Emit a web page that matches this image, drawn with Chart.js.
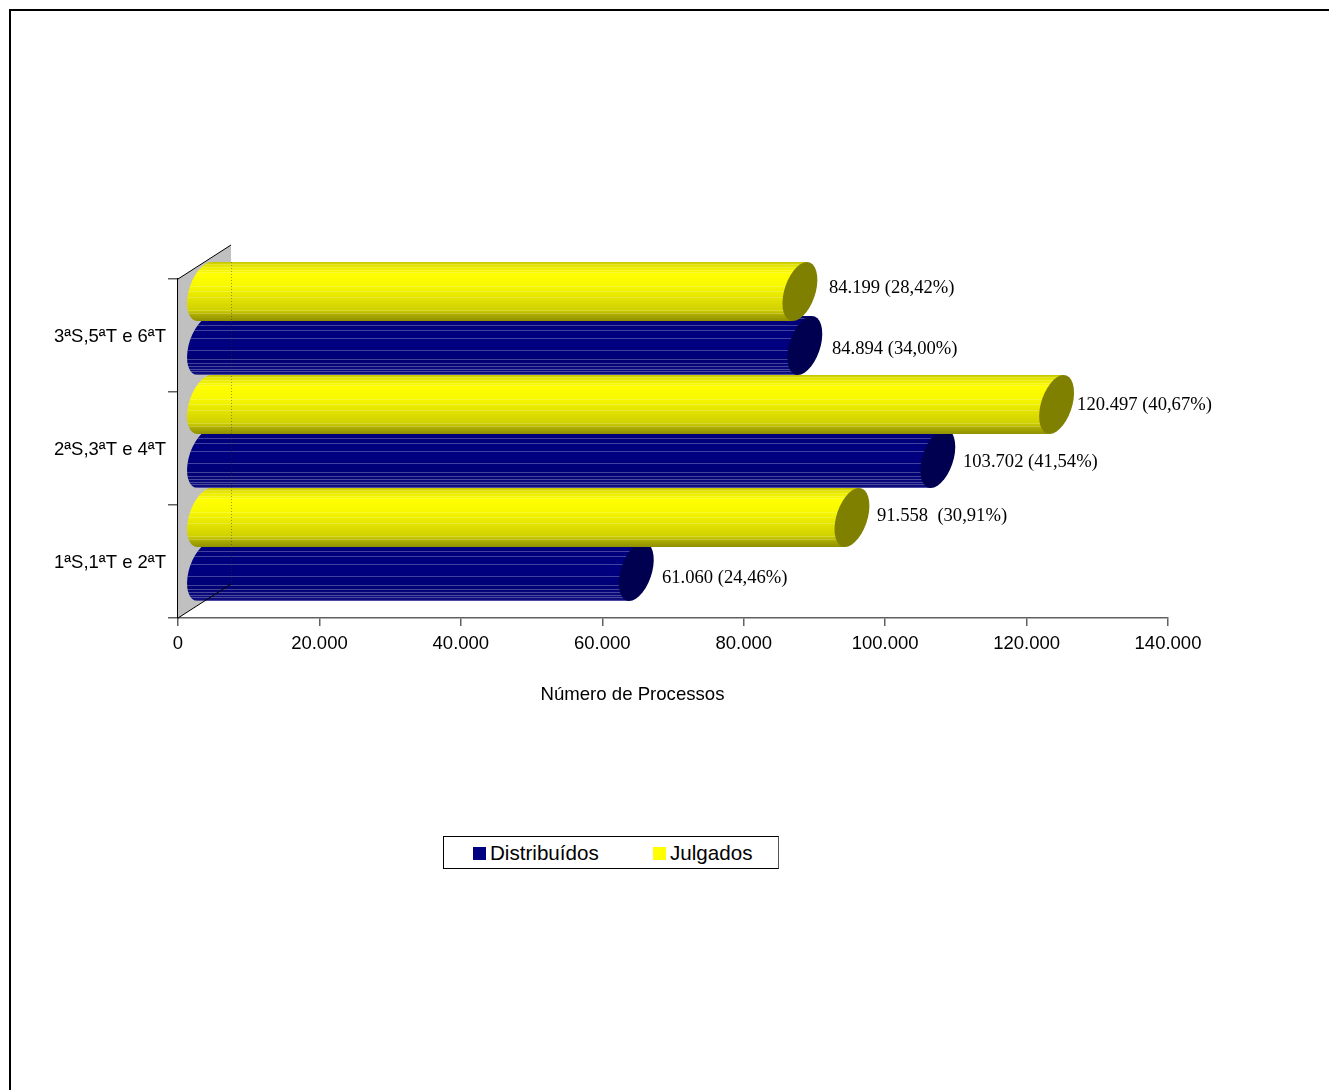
<!DOCTYPE html>
<html lang="pt">
<head>
<meta charset="utf-8">
<title>Processos distribuídos e julgados</title>
<script src="https://cdn.jsdelivr.net/npm/chart.js@4/dist/chart.umd.min.js"></script>
<style>
    html, body { margin: 0; padding: 0; background: #fff; overflow: hidden; }
    #page { position: relative; width: 1329px; height: 1090px; overflow: hidden; }
    #frame { position: absolute; left: 9px; top: 9px; width: 1400px; height: 1200px; border: 2px solid #000; }
    #wrap { position: absolute; left: 0; top: 0; width: 1329px; height: 1090px; }
    #legend {
        position: absolute; left: 443px; top: 836px; width: 334px; height: 31px;
        border: 1px solid #000; border-right-color: #555; background: #fff;
        font: 20.6px "Liberation Sans", Arial, sans-serif; color: #000;
    }
    #legend ul { list-style: none; margin: 0; padding: 0; }
    #legend li { position: absolute; top: 0; height: 31px; line-height: 32px; white-space: nowrap; }
    #legend span { position: absolute; left: 0; top: 10px; width: 13px; height: 13px; }
    #legend div { position: absolute; left: 17px; top: 0; }
</style>
</head>
<body>
<div id="page">
    <div id="frame"></div>
    <div id="wrap"><canvas id="chart" width="1329" height="1090"></canvas></div>
    <div id="legend"></div>
</div>
<script>
const categories = ["3ªS,5ªT e 6ªT", "2ªS,3ªT e 4ªT", "1ªS,1ªT e 2ªT"];
const julgados = [84199, 120497, 91558];
const distribuidos = [84894, 103702, 61060];
const julgadosLabels = ["84.199 (28,42%)", "120.497 (40,67%)", "91.558  (30,91%)"];
const distribuidosLabels = ["84.894 (34,00%)", "103.702 (41,54%)", "61.060 (24,46%)"];
const xTicks = ["0", "20.000", "40.000", "60.000", "80.000", "100.000", "120.000", "140.000"];

// 3d look: everything sits half way into the wall
const depthX = 53;
const depthY = 34;
const capLean = 7;
const capWidth = 16;

const yellowLook = {
    stops: [
        [0, "#c4c400"], [0.05, "#e2e200"], [0.2, "#ffff00"], [0.4, "#f8f800"], [0.6, "#e4e400"],
        [0.82, "#d0d000"], [0.9, "#aaaa00"], [1, "#909000"],
    ],
    stripes: [0.04, 0.09, 0.13, 0.17, 0.41, 0.5, 0.6, 0.81, 0.87],
    stripeColor: "rgba(255,255,255,0.2)",
    cap: "#808000",
};
const blueLook = {
    stops: [[0, "#000078"], [0.1, "#00007c"], [0.5, "#000080"], [0.75, "#000074"], [1, "#101080"]],
    stripes: [0.03, 0.16, 0.24, 0.37, 0.57, 0.73, 0.79, 0.85, 0.9, 0.94, 0.98],
    stripeColor: "rgba(255,255,255,0.26)",
    cap: "#000050",
};

function drawCylinder(ctx, bar, look, startX) {
    const cy = bar.y - depthY / 2;
    const ry = bar.height / 2;
    const endX = bar.x + depthX / 2;
    const beginX = startX + depthX / 2;
    const circle = new Path2D();
    circle.arc(0, 0, 1, 0, Math.PI * 2);

    const body = new Path2D();
    body.addPath(circle, new DOMMatrix([capWidth, 0, -capLean, ry, beginX, cy]));
    body.moveTo(beginX + capLean, cy - ry);
    body.lineTo(endX + capLean, cy - ry);
    body.lineTo(endX - capLean, cy + ry);
    body.lineTo(beginX - capLean, cy + ry);
    body.closePath();

    const grad = ctx.createLinearGradient(0, cy - ry, 0, cy + ry);
    look.stops.forEach(([pos, color]) => grad.addColorStop(pos, color));
    ctx.fillStyle = grad;
    ctx.fill(body);

    ctx.save();
    ctx.clip(body);
    ctx.fillStyle = look.stripeColor;
    look.stripes.forEach((pos) => {
        ctx.fillRect(startX, Math.round(cy - ry + pos * bar.height), endX - startX + capLean + 5, 1);
    });
    ctx.restore();

    const cap = new Path2D();
    cap.addPath(circle, new DOMMatrix([capWidth, 0, -capLean, ry, endX, cy]));
    ctx.fillStyle = look.cap;
    ctx.fill(cap);
}

// nudges of the value labels from the end of their bar
const labelNudge = {
    Julgados: [[55.6, -20.5], [47, -16.5], [51.5, -18.5]],
    "Distribuídos": [[53.7, -13.5], [51.7, -13.5], [52.2, -10.5]],
};

const cylinderPlugin = {
    id: "cylinders",
    beforeDatasetsDraw(chart) {
        const { ctx, chartArea } = chart;
        const { left, top, bottom } = chartArea;
        ctx.save();
        ctx.fillStyle = "#c0c0c0";
        ctx.beginPath();
        ctx.moveTo(left, top);
        ctx.lineTo(left + depthX, top - depthY);
        ctx.lineTo(left + depthX, bottom - depthY);
        ctx.lineTo(left, bottom);
        ctx.closePath();
        ctx.fill();
        ctx.strokeStyle = "#000";
        ctx.lineWidth = 1;
        ctx.beginPath();
        ctx.moveTo(left, top);
        ctx.lineTo(left + depthX, top - depthY);
        ctx.stroke();
        ctx.restore();
    },
    beforeDatasetDraw(chart, args) {
        const { ctx } = chart;
        const dataset = chart.data.datasets[args.index];
        const look = dataset.label === "Julgados" ? yellowLook : blueLook;
        const startX = chart.scales.x.getPixelForValue(0);
        ctx.save();
        [...args.meta.data].reverse().forEach((bar) => {
            drawCylinder(ctx, bar, look, startX);
        });
        ctx.restore();
        return false;
    },
    afterDatasetsDraw(chart) {
        const { ctx, chartArea } = chart;
        const wallX = chartArea.left + depthX + 0.5;
        ctx.save();
        // wall edges showing through the bars
        ctx.strokeStyle = "rgba(40,40,40,0.45)";
        ctx.lineWidth = 1;
        ctx.setLineDash([1, 2]);
        ctx.beginPath();
        ctx.moveTo(wallX, 262);
        ctx.lineTo(wallX, chartArea.bottom - depthY);
        ctx.stroke();
        ctx.setLineDash([]);
        ctx.strokeStyle = "#000";
        ctx.beginPath();
        ctx.moveTo(chartArea.left, chartArea.bottom);
        ctx.lineTo(chartArea.left + depthX, chartArea.bottom - depthY);
        ctx.stroke();

        ctx.fillStyle = "#000";
        ctx.font = '18.6px "Liberation Serif", "Times New Roman", serif';
        ctx.textBaseline = "middle";
        chart.data.datasets.forEach((dataset, di) => {
            const bars = chart.getDatasetMeta(di).data;
            bars.forEach((bar, i) => {
                const [nx, ny] = labelNudge[dataset.label][i];
                ctx.fillText(dataset.valueLabels[i], bar.x + nx, bar.y + ny);
            });
        });

        ctx.font = '18.6px "Liberation Sans", Arial, sans-serif';
        ctx.textAlign = "center";
        ctx.fillText("Número de Processos", 632.5, 695);
        ctx.restore();
    },
};

const htmlLegendPlugin = {
    id: "htmlLegend",
    afterUpdate(chart) {
        const box = document.getElementById("legend");
        box.innerHTML = "";
        const ul = document.createElement("ul");
        const spots = { "Distribuídos": 29, Julgados: 209 };
        const items = chart.data.datasets.slice().reverse();
        items.forEach((item) => {
            const li = document.createElement("li");
            li.style.left = `${spots[item.label]}px`;
            const swatch = document.createElement("span");
            swatch.style.backgroundColor = item.backgroundColor;
            const text = document.createElement("div");
            text.textContent = item.label;
            li.appendChild(swatch);
            li.appendChild(text);
            ul.appendChild(li);
        });
        box.appendChild(ul);
    },
};

new Chart(document.getElementById("chart").getContext("2d"), {
    type: "bar",
    data: {
        labels: categories,
        datasets: [
            { label: "Julgados", data: julgados, valueLabels: julgadosLabels, backgroundColor: "#ffff00" },
            { label: "Distribuídos", data: distribuidos, valueLabels: distribuidosLabels, backgroundColor: "#000080" },
        ],
    },
    options: {
        indexAxis: "y",
        responsive: false,
        animation: false,
        categoryPercentage: 0.956,
        barPercentage: 1.09,
        layout: { padding: { top: 279, right: 161, bottom: 0, left: 0 } },
        plugins: {
            legend: { display: false },
            tooltip: { enabled: false },
        },
        scales: {
            x: {
                min: 0,
                max: 140000,
                afterFit(scale) { scale.height = 472; },
                afterBuildTicks(scale) {
                    scale.ticks = xTicks.map((_, i) => ({ value: i * 20000 }));
                },
                grid: { drawOnChartArea: false, color: "#606060", tickLength: 8, lineWidth: 1.5 },
                border: { color: "#606060", width: 1.5 },
                ticks: {
                    color: "#000",
                    padding: 7,
                    maxRotation: 0,
                    autoSkip: false,
                    font: { family: '"Liberation Sans", Arial, sans-serif', size: 18.5 },
                    callback: (value, index) => xTicks[index],
                },
            },
            y: {
                afterFit(scale) { scale.width = 178; },
                grid: { drawOnChartArea: false, color: "#606060", tickLength: 10, lineWidth: 1.5 },
                border: { color: "#000", width: 1.5 },
                ticks: {
                    color: "#000",
                    padding: 2,
                    labelOffset: 1.5,
                    font: { family: '"Liberation Sans", Arial, sans-serif', size: 18.5 },
                },
            },
        },
    },
    plugins: [cylinderPlugin, htmlLegendPlugin],
});
</script>
</body>
</html>
